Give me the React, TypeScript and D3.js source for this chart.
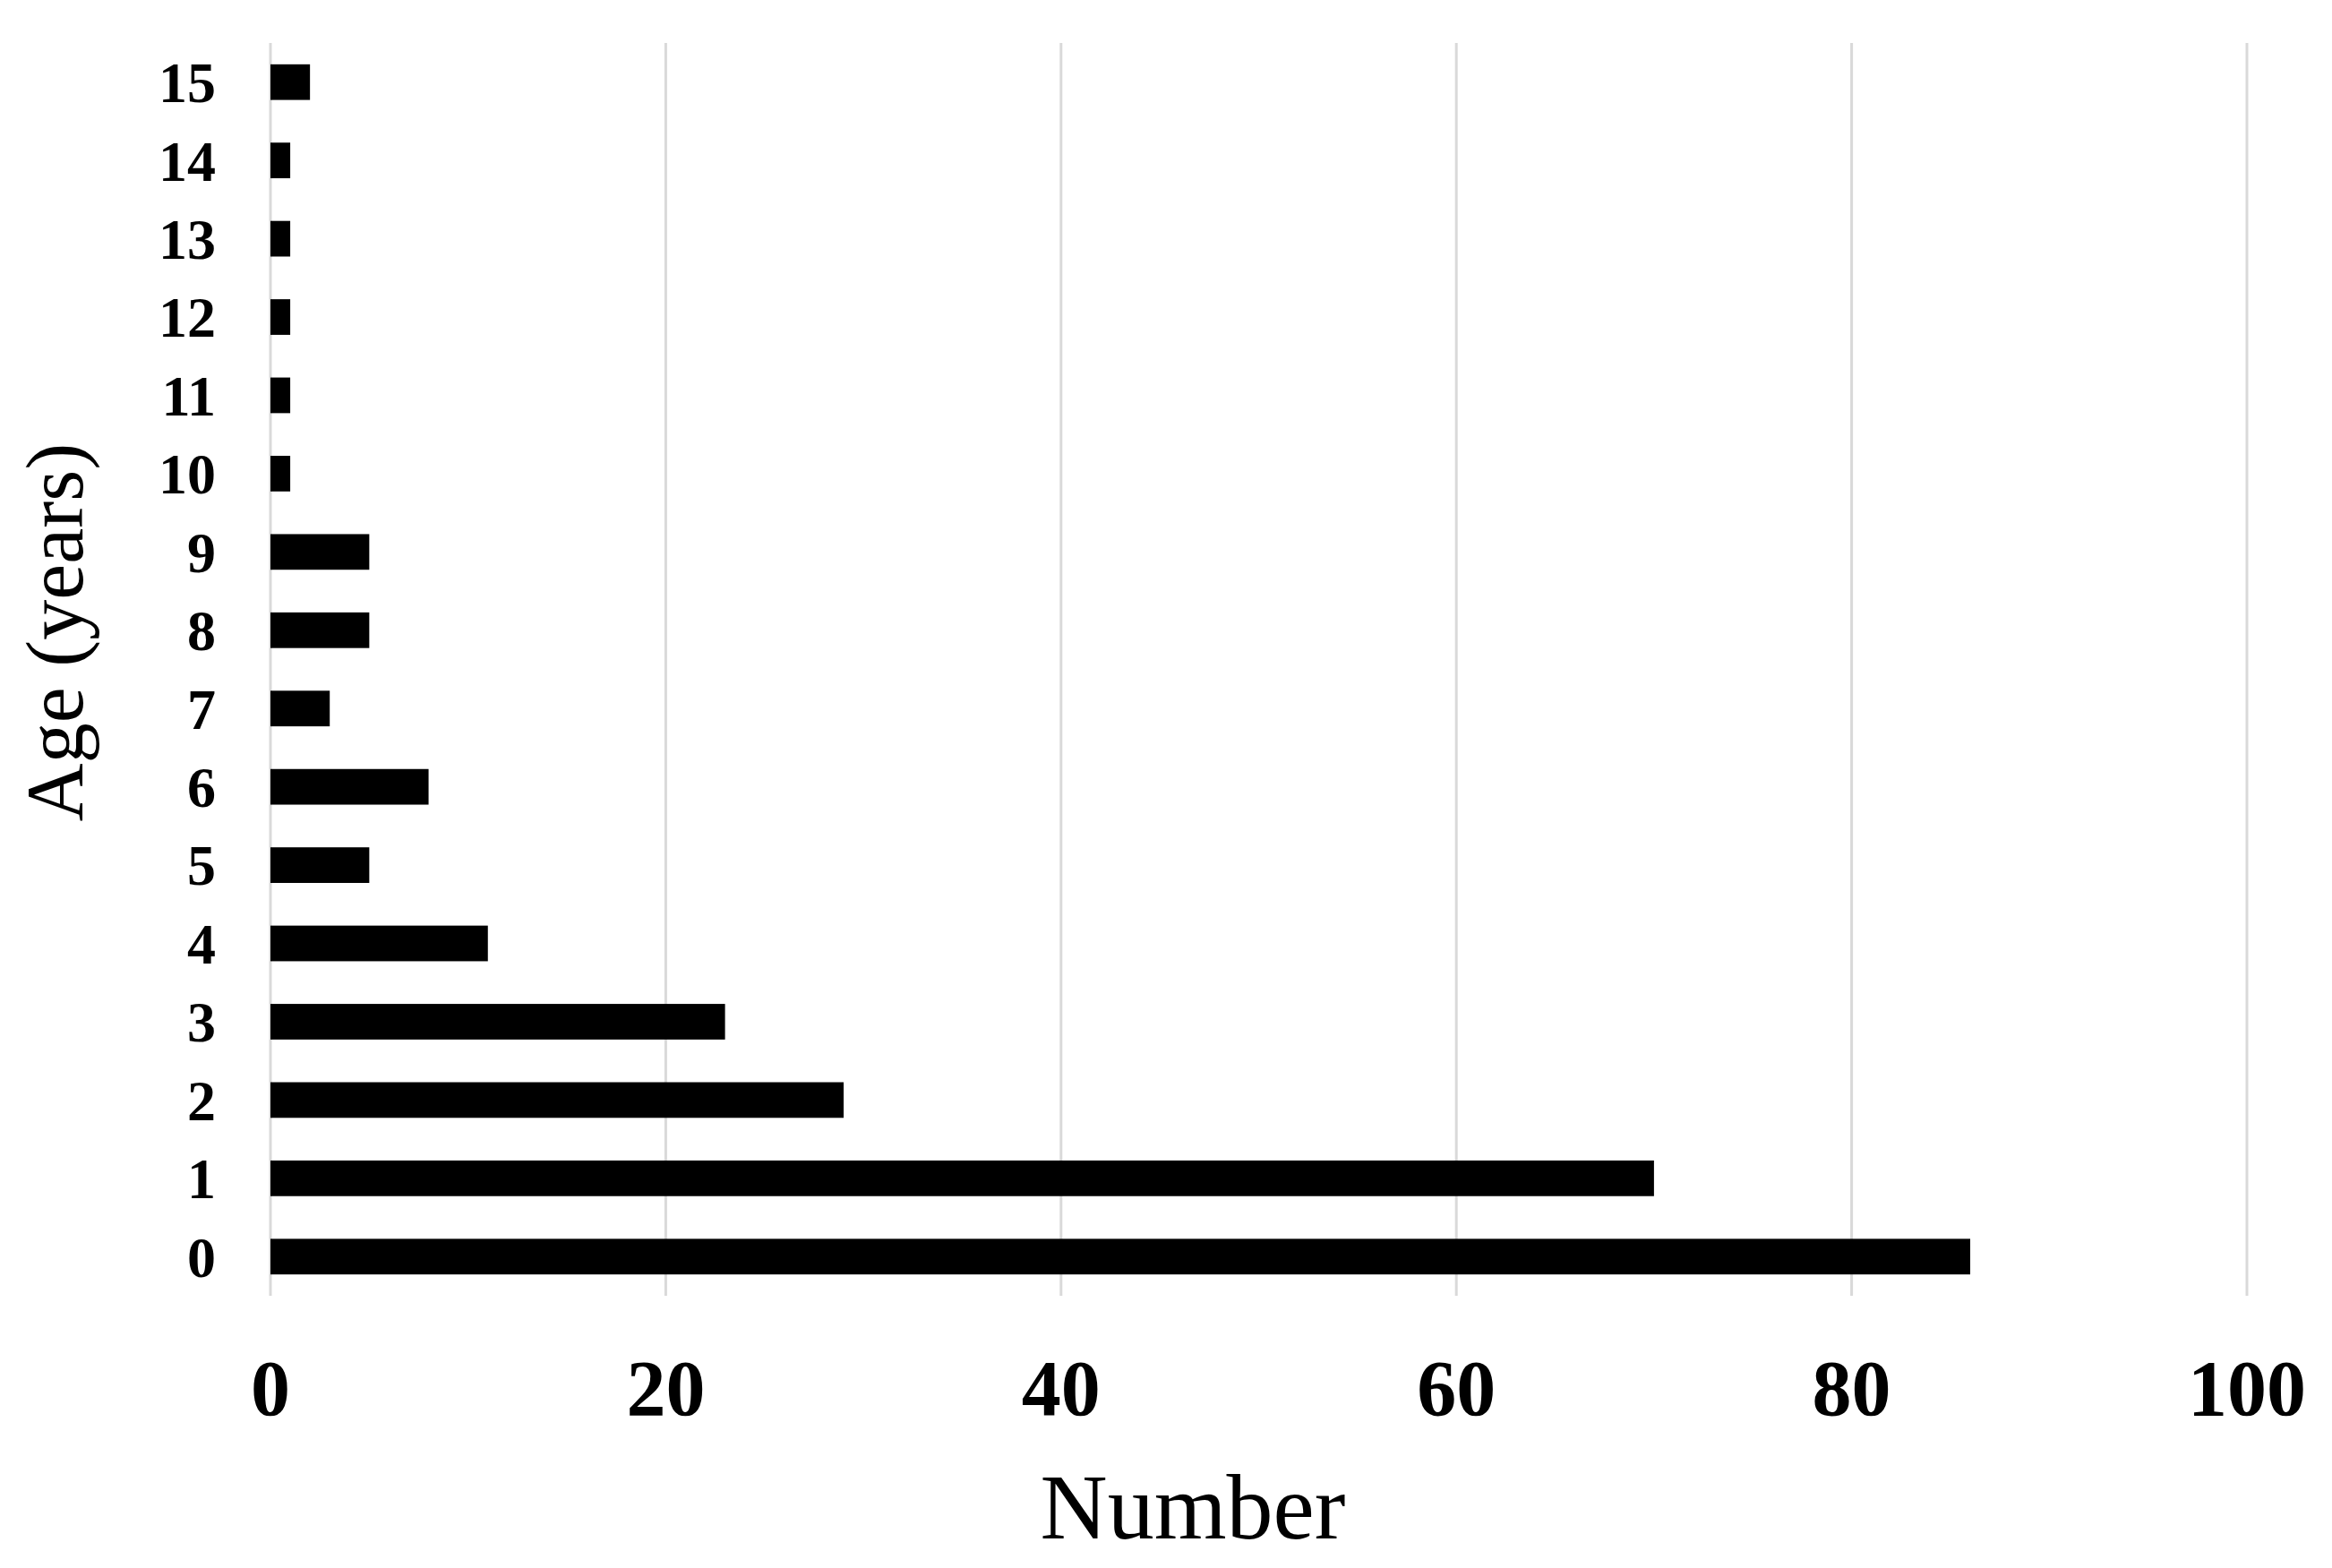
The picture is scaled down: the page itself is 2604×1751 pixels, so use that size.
import React from "react";
import * as d3 from "d3";

const ages: string[] = ["0","1","2","3","4","5","6","7","8","9","10","11","12","13","14","15"];
const counts: number[] = [86, 70, 29, 23, 11, 5, 8, 3, 5, 5, 1, 1, 1, 1, 1, 2];
const xTicks: number[] = [0, 20, 40, 60, 80, 100];
const xTitle = "Number";
const yTitle = "Age (years)";

const W = 2604;
const H = 1751;
const left = 302;
const right = 2509;
const top = 48;
const bottom = 1447;

export default function App() {
  const x = d3.scaleLinear().domain([0, 100]).range([left, right]);
  const y = d3.scaleBand<string>().domain(ages).range([bottom, top]).paddingInner(0.545).paddingOuter(0.2725);
  const font = "'Liberation Serif', 'Times New Roman', serif";
  return (
    <svg width={W} height={H} style={{ position: "absolute", left: 0, top: 0, background: "#fff" }} xmlns="http://www.w3.org/2000/svg">
      <rect x={0} y={0} width={W} height={H} fill="#fff" />
      {xTicks.map((t) => (
        <line key={"g" + t} x1={x(t)} x2={x(t)} y1={top} y2={bottom} stroke="#d9d9d9" strokeWidth={3} />
      ))}
      {ages.map((a, i) => (
        <rect key={"b" + a} x={x(0)} y={y(a)!} width={x(counts[i]) - x(0)} height={y.bandwidth()} fill="#000" />
      ))}
      {ages.map((a) => (
        <text key={"yl" + a} x={241} y={y(a)! + y.bandwidth() / 2} dy="0.35em" textAnchor="end" fontFamily={font} fontWeight="bold" fontSize={64} fill="#000">{a}</text>
      ))}
      {xTicks.map((t) => (
        <text key={"xl" + t} x={x(t)} y={1580} textAnchor="middle" fontFamily={font} fontWeight="bold" fontSize={88} fill="#000">{t}</text>
      ))}
      <text x={1332} y={1718} textAnchor="middle" fontFamily={font} fontSize={104} fill="#000">{xTitle}</text>
      <text transform={`translate(92,706) rotate(-90)`} textAnchor="middle" fontFamily={font} fontSize={90} fill="#000">{yTitle}</text>
    </svg>
  );
}
